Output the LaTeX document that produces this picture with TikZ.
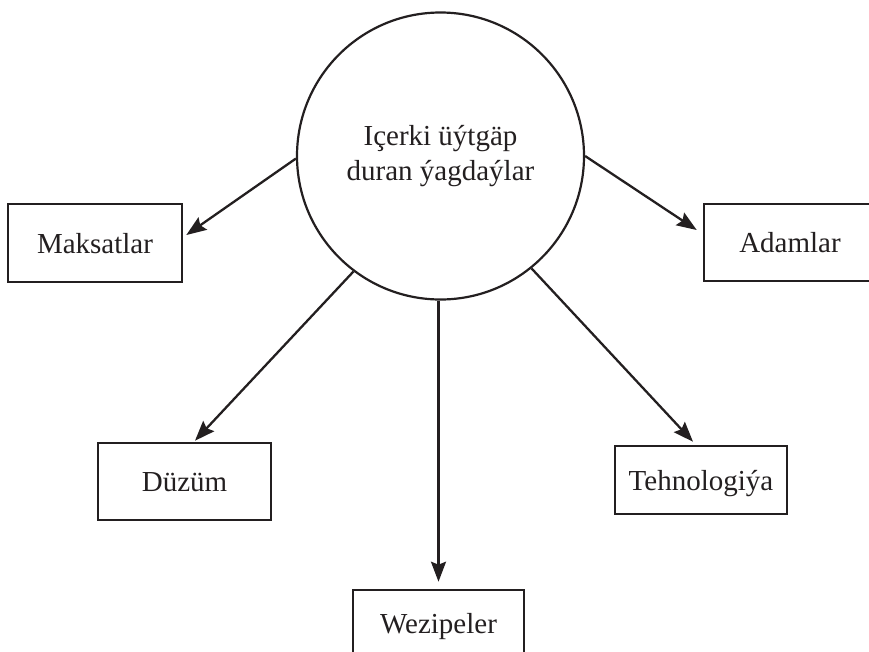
\documentclass[tikz,border=0pt]{standalone}
\usepackage{fontspec}
\setmainfont{Liberation Serif}
\usetikzlibrary{arrows.meta}
\definecolor{ink}{RGB}{35,31,32}
\begin{document}
\begin{tikzpicture}[x=1pt,y=-1pt,
  every node/.style={text=ink},
  boxnode/.style={draw=ink,line width=2.6pt,rectangle,inner sep=0pt,text height=20pt,text depth=0pt,font=\fontsize{29}{34}\selectfont},
  hub/.style={draw=ink,line width=2.2pt,circle,inner sep=0pt,minimum size=287pt,align=center,font=\fontsize{29}{35}\selectfont},
  link/.style={draw=ink,line width=2.3pt,-{Stealth[length=20pt,width=15pt,inset=3pt]}}
]
\useasboundingbox (0,0) rectangle (869,651);
\node[hub] (c) at (440.5,156) {Içerki üýtgäp\\duran ýagdaýlar};
\node[boxnode,minimum width=174pt,minimum height=78pt] (m) at (95,243) {Maksatlar};
\node[boxnode,minimum width=172pt,minimum height=77pt] (a) at (790,242.5) {Adamlar};
\node[boxnode,minimum width=173pt,minimum height=77pt] (d) at (184.5,481.5) {Düzüm};
\node[boxnode,minimum width=172pt,minimum height=68pt] (t) at (701,480) {Tehnologiýa};
\node[boxnode,minimum width=171pt,minimum height=66pt] (w) at (438.5,623) {Wezipeler};
\draw[link] (c.181) -- ([xshift=3pt,yshift=8pt]m.east);
\draw[link] (c.-0.5) -- ([xshift=-6pt,yshift=12.5pt]a.west);
\draw[link] (c.233) -- ([xshift=10.5pt,yshift=1pt]d.north);
\draw[link] (c.south -| w.north) -- ([yshift=7pt]w.north);
\draw[link] (c.309) -- ([xshift=-8pt,yshift=3pt]t.north);
\end{tikzpicture}
\end{document}
